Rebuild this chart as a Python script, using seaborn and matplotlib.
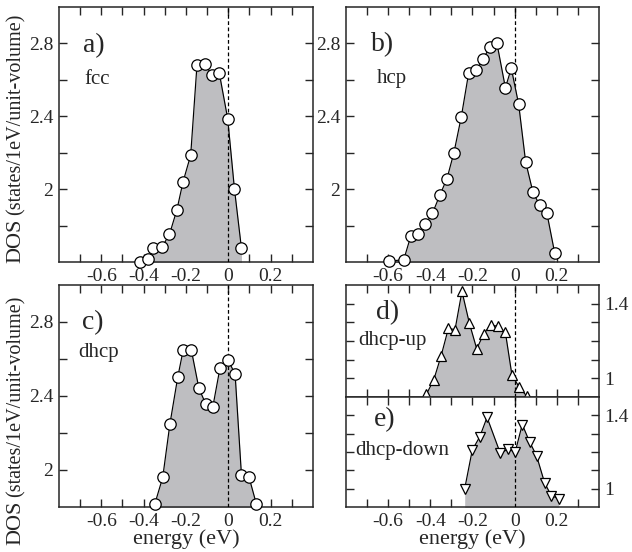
import numpy as np
import pandas as pd
import matplotlib
matplotlib.use("Agg")
import matplotlib.pyplot as plt
import seaborn as sns

# ---- data ----
fcc_e = [-0.417, -0.381, -0.354, -0.314, -0.278, -0.243, -0.214, -0.178, -0.148, -0.108, -0.079, -0.043, -0.003, 0.029, 0.062]
fcc_dos = [1.598, 1.616, 1.675, 1.681, 1.752, 1.887, 2.040, 2.186, 2.683, 2.689, 2.625, 2.639, 2.387, 2.000, 1.675]

hcp_e = [-0.596, -0.526, -0.493, -0.458, -0.423, -0.390, -0.355, -0.321, -0.288, -0.253, -0.218, -0.182, -0.150, -0.118, -0.084, -0.044, -0.016, 0.019, 0.052, 0.087, 0.118, 0.153, 0.190]
hcp_dos = [1.604, 1.613, 1.741, 1.753, 1.808, 1.867, 1.967, 2.058, 2.201, 2.398, 2.639, 2.654, 2.712, 2.782, 2.800, 2.557, 2.663, 2.466, 2.150, 1.982, 1.914, 1.867, 1.649]

dhcp_e = [-0.348, -0.310, -0.276, -0.239, -0.213, -0.175, -0.139, -0.107, -0.073, -0.039, 0.000, 0.032, 0.062, 0.098, 0.133]
dhcp_dos = [1.814, 1.960, 2.249, 2.502, 2.650, 2.650, 2.441, 2.358, 2.343, 2.554, 2.592, 2.518, 1.973, 1.960, 1.814]

up_e = [-0.419, -0.384, -0.349, -0.314, -0.283, -0.250, -0.215, -0.180, -0.147, -0.114, -0.079, -0.044, -0.013, 0.022, 0.057]
up_dos = [0.914, 0.991, 1.120, 1.269, 1.260, 1.466, 1.296, 1.158, 1.237, 1.287, 1.278, 1.246, 1.018, 0.952, 0.905]

down_e = [-0.237, -0.201, -0.166, -0.131, -0.068, -0.033, 0.003, 0.036, 0.071, 0.104, 0.142, 0.174, 0.209]
down_dos = [1.000, 1.211, 1.282, 1.389, 1.193, 1.214, 1.202, 1.350, 1.255, 1.179, 1.032, 0.961, 0.946]

xtick_labels = ["-0.6", "-0.4", "-0.2", "0", "0.2"]

sns.set_style("ticks")
plt.rcParams['font.family'] = ['Liberation Serif', 'DejaVu Serif']
plt.rcParams['mathtext.fontset'] = 'stix'

W, H = 632, 552
fig = plt.figure(figsize=(W / 100, H / 100), dpi=100)

def rect(l, r, t, b):
    return [l / W, 1 - b / H, (r - l) / W, (b - t) / H]

FILL = "#bebec1"

def panel(box, e, dos, ylim, yticks, ylabels, marker, xlabels, ylab_right=False, dash_under=False):
    ax = fig.add_axes(rect(*box))
    ax.set_xlim(-0.8, 0.4)
    ax.set_ylim(*ylim)
    bot = ylim[0]
    ax.fill_between(e, dos, bot - 1, color=FILL, lw=0, zorder=2)
    ax.axvline(0, color="k", ls=(0, (3, 2)), lw=0.9, zorder=1 if dash_under else 3)
    df = pd.DataFrame({"e": e, "dos": dos})
    sns.lineplot(data=df, x="e", y="dos", ax=ax, color="k", lw=0.85, marker=marker,
                 markersize=8.2 if marker == "o" else 7.8, markerfacecolor="white",
                 markeredgecolor="k", markeredgewidth=0.9, zorder=4, clip_on=False)
    ax.set_xlabel("")
    ax.set_ylabel("")
    ticks = np.arange(-0.7, 0.35, 0.1)
    ax.set_xticks(ticks)
    lbls = []
    for t in ticks:
        s = ""
        for L in xtick_labels:
            if abs(float(L) - t) < 1e-6:
                s = L
        lbls.append(s)
    ax.set_xticklabels(lbls if xlabels else [""] * len(lbls))
    ax.set_yticks(yticks)
    ax.set_yticklabels(ylabels)
    ax.tick_params(direction="in", length=6, width=1, top=True, right=True,
                   labelsize=14, pad=4)
    if ylab_right:
        ax.tick_params(labelleft=False, labelright=True)
    for s in ax.spines.values():
        s.set_linewidth(1.1)
    return ax

ya = [1.8, 2.0, 2.2, 2.4, 2.6, 2.8]
yal = ["", "2", "", "2.4", "", "2.8"]
ax_a = panel((59, 313, 7, 262), fcc_e, fcc_dos, (1.6, 3.0), ya, yal, "o", True)
ax_b = panel((346, 599, 7, 262), hcp_e, hcp_dos, (1.6, 3.0), ya, yal, "o", True, dash_under=True)
ax_c = panel((59, 313, 285, 507), dhcp_e, dhcp_dos, (1.8, 3.0), [2.0, 2.2, 2.4, 2.6, 2.8], ["2", "", "2.4", "", "2.8"], "o", True)
yd = [1.0, 1.1, 1.2, 1.3, 1.4]
ydl = ["1", "", "", "", "1.4"]
ax_d = panel((346, 599, 285, 397), up_e, up_dos, (0.9, 1.5), yd, ydl, "^", False, ylab_right=True)
ax_e = panel((346, 599, 397, 507), down_e, down_dos, (0.9, 1.5), yd, ydl, "v", True, ylab_right=True)

for ax in (ax_c, ax_e):
    ax.set_xlabel("energy (eV)", fontsize=16, labelpad=0)

def ftext(x, y, s, size, **kw):
    fig.text(x / W, 1 - y / H, s, fontsize=size, **kw)

ftext(83, 46, "a)", 20, va="center", ha="left")
ftext(84, 80, "fcc", 15, va="center", ha="left")
ftext(371, 45, "b)", 20, va="center", ha="left")
ftext(377, 78, "hcp", 15, va="center", ha="left")
ftext(82, 323, "c)", 20, va="center", ha="left")
ftext(78, 352, "dhcp", 15, va="center", ha="left")
ftext(376, 313, "d)", 20, va="center", ha="left")
ftext(358, 340, "dhcp-up", 15, va="center", ha="left")
ftext(374, 420, "e)", 20, va="center", ha="left")
ftext(355, 450, "dhcp-down", 15, va="center", ha="left")

for ybot in (263, 545):
    ftext(16, ybot, "DOS", 16, rotation=90, ha="center", va="bottom")
    ftext(16, ybot - 48, "(states/1eV/unit-volume)", 14.5, rotation=90, ha="center", va="bottom")

fig.savefig("out.png", dpi=100)
